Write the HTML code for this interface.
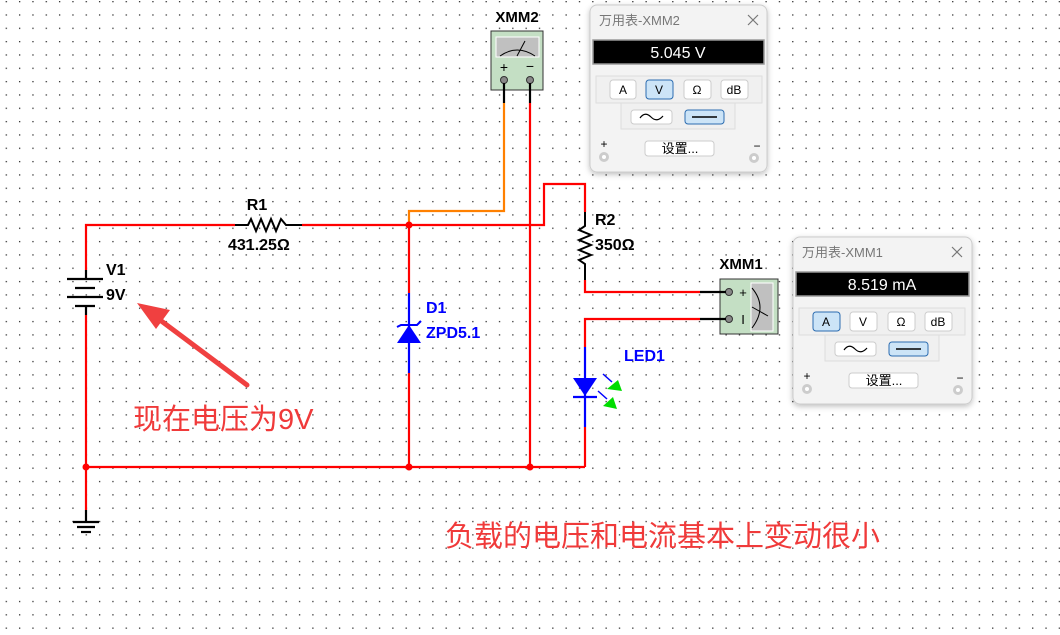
<!DOCTYPE html>
<html><head><meta charset="utf-8"><style>
html,body{margin:0;padding:0;background:#fff;}
svg{display:block;}
text{font-family:"Liberation Sans","Noto Sans CJK SC",sans-serif;}
</style></head><body>
<svg width="1060" height="635" viewBox="0 0 1060 635" xmlns="http://www.w3.org/2000/svg">
<defs>
<pattern id="g" x="5.65" y="1" width="13.33" height="13.33" patternUnits="userSpaceOnUse">
<rect x="0" y="0" width="1.3" height="1.3" fill="#333"/>
</pattern>
<filter id="sh" x="-10%" y="-10%" width="120%" height="120%"><feDropShadow dx="0" dy="2" stdDeviation="3" flood-color="#000" flood-opacity="0.25"/></filter>
</defs>
<rect width="1060" height="635" fill="url(#g)"/>

<g stroke="#f00" stroke-width="2.2" fill="none">
<polyline points="86,270 86,225 235,225"/>
<polyline points="302,225 544,225 544,184 585,184 585,212"/>
<line x1="86" y1="315" x2="86" y2="510"/>
<line x1="86" y1="467" x2="585" y2="467"/>
<line x1="409" y1="225" x2="409" y2="293"/>
<line x1="409" y1="373" x2="409" y2="467"/>
<line x1="530" y1="103" x2="530" y2="467"/>
<polyline points="585,280 585,292 700,292"/>
<polyline points="700,319 585,319 585,347"/>
<line x1="585" y1="427" x2="585" y2="467"/>
</g>
<polyline points="409,225 409,211 504,211 504,103" stroke="#ff8000" stroke-width="2.2" fill="none"/>
<g fill="#f00"><circle cx="86" cy="467" r="3.5"/><circle cx="409" cy="467" r="3.5"/><circle cx="530" cy="467" r="3.5"/><circle cx="409" cy="225" r="3.5"/></g>

<g stroke="#000" stroke-width="2.2">
<line x1="86" y1="270" x2="86" y2="279"/><line x1="86" y1="306" x2="86" y2="315"/>
<line x1="67" y1="279" x2="103" y2="279"/><line x1="75" y1="288" x2="95" y2="288"/>
<line x1="67" y1="297" x2="103" y2="297"/><line x1="75" y1="306" x2="95" y2="306"/>
</g>
<text x="106" y="275" font-size="16" font-weight="bold">V1</text>
<text x="106" y="300" font-size="16" font-weight="bold">9V</text>

<g stroke="#000" stroke-width="2.2">
<line x1="86" y1="510" x2="86" y2="522"/>
<line x1="73" y1="522" x2="99" y2="522"/><line x1="77" y1="527" x2="95" y2="527"/><line x1="81" y1="532" x2="91" y2="532"/>
</g>

<polyline points="235,225 248,225 251,219 256,231 261,219 266,231 271,219 276,231 281,219 286,225 302,225" stroke="#000" stroke-width="2" fill="none"/>
<text x="257" y="210" font-size="16" font-weight="bold" text-anchor="middle">R1</text>
<text x="228" y="250" font-size="16" font-weight="bold">431.25Ω</text>

<polyline points="585,212 585,226 579,230 591,235 579,240 591,245 579,250 591,255 579,260 585,264 585,280" stroke="#000" stroke-width="2" fill="none"/>
<text x="595" y="225" font-size="16" font-weight="bold">R2</text>
<text x="595" y="250" font-size="16" font-weight="bold">350Ω</text>

<line x1="409" y1="293" x2="409" y2="373" stroke="#00f" stroke-width="2.2"/>
<polygon points="397,343 421,343 409,325" fill="#00f"/>
<polyline points="397,327 401,325 417,325 421,321" stroke="#00f" stroke-width="2" fill="none"/>
<text x="426" y="313" font-size="16" font-weight="bold" fill="#00f">D1</text>
<text x="426" y="338" font-size="16" font-weight="bold" fill="#00f">ZPD5.1</text>

<line x1="585" y1="347" x2="585" y2="427" stroke="#00f" stroke-width="2.2"/>
<polygon points="573,378 597,378 585,396" fill="#00f"/>
<line x1="573" y1="397" x2="597" y2="397" stroke="#00f" stroke-width="2.2"/>
<line x1="603" y1="374" x2="612" y2="382" stroke="#00f" stroke-width="1.5"/>
<line x1="598" y1="391" x2="607" y2="399" stroke="#00f" stroke-width="1.5"/>
<polygon points="607,389 618,380 622,391" fill="#0d0"/>
<polygon points="603,406 613,397 617,409" fill="#0d0"/>
<text x="624" y="361" font-size="16" font-weight="bold" fill="#00f">LED1</text>

<text x="517" y="22" font-size="15" font-weight="bold" text-anchor="middle" font-family="Liberation Mono,monospace">XMM2</text>
<rect x="491" y="31" width="52" height="59" fill="#c4dfc4" stroke="#333" stroke-width="1"/>
<rect x="496" y="37" width="43" height="20" fill="#c0c0c0" stroke="#fff" stroke-width="1"/>
<path d="M500,56 Q517,44 535,56" stroke="#000" fill="none" stroke-width="1"/>
<line x1="517" y1="56" x2="525" y2="41" stroke="#000" stroke-width="1"/>
<text x="504" y="72" font-size="14" text-anchor="middle">+</text>
<text x="530" y="71" font-size="14" text-anchor="middle">−</text>
<circle cx="504" cy="80" r="3.5" fill="#888" stroke="#333"/><circle cx="530" cy="80" r="3.5" fill="#888" stroke="#333"/>
<line x1="504" y1="83" x2="504" y2="103" stroke="#000" stroke-width="2.2"/>
<line x1="530" y1="83" x2="530" y2="103" stroke="#000" stroke-width="2.2"/>

<text x="741" y="269" font-size="15" font-weight="bold" text-anchor="middle" font-family="Liberation Mono,monospace">XMM1</text>
<rect x="720" y="279" width="58" height="55" fill="#c4dfc4" stroke="#333" stroke-width="1"/>
<rect x="751" y="283" width="22" height="48" fill="#c0c0c0" stroke="#fff" stroke-width="1"/>
<path d="M752,288 Q768,307 752,328" stroke="#000" fill="none" stroke-width="1"/>
<line x1="752" y1="307" x2="768" y2="316" stroke="#000" stroke-width="1"/>
<text x="743" y="297" font-size="13" text-anchor="middle">+</text>
<text x="743" y="324" font-size="13" text-anchor="middle">I</text>
<circle cx="729" cy="292" r="3.5" fill="#888" stroke="#333"/><circle cx="729" cy="319" r="3.5" fill="#888" stroke="#333"/>
<line x1="700" y1="292" x2="726" y2="292" stroke="#000" stroke-width="2.2"/>
<line x1="700" y1="319" x2="726" y2="319" stroke="#000" stroke-width="2.2"/>

<g transform="translate(590,5)">
<rect x="0" y="0" width="177" height="167" rx="7" fill="#f3f3f3" stroke="#ccc" filter="url(#sh)"/>
<text x="9" y="20" font-size="13" fill="#777">万用表-XMM2</text>
<path d="M158,10 L168,20 M168,10 L158,20" stroke="#777" stroke-width="1.2"/>
<rect x="3" y="35" width="171" height="24" fill="#000" stroke="#999" stroke-width="1.5"/>
<text x="88" y="53" font-size="16" fill="#fff" text-anchor="middle">5.045 V</text>
<rect x="6" y="71" width="166" height="27" fill="#f0f0f0" stroke="#ddd"/>
<rect x="20" y="75" width="26" height="19" rx="3" fill="#fff" stroke="#ccc"/><text x="33" y="89" font-size="12" text-anchor="middle">A</text>
<rect x="56" y="75" width="27" height="19" rx="3" fill="#cce4f7" stroke="#2b6cb0"/><text x="69" y="89" font-size="12" text-anchor="middle">V</text>
<rect x="94" y="75" width="27" height="19" rx="3" fill="#fff" stroke="#ccc"/><text x="107" y="89" font-size="12" text-anchor="middle">Ω</text>
<rect x="131" y="75" width="27" height="19" rx="3" fill="#fff" stroke="#ccc"/><text x="144" y="89" font-size="12" text-anchor="middle">dB</text>
<rect x="31" y="98" width="114" height="26" fill="#f0f0f0" stroke="#ddd"/>
<rect x="41" y="105" width="41" height="14" rx="3" fill="#fff" stroke="#ccc"/>
<path d="M50,113 Q55,106 61,112 Q67,118 73,111" stroke="#000" fill="none" stroke-width="1.2"/>
<rect x="95" y="105" width="39" height="14" rx="3" fill="#cce4f7" stroke="#2b6cb0"/>
<line x1="102" y1="112" x2="127" y2="112" stroke="#000" stroke-width="1.5"/>
<text x="14" y="143" font-size="12" text-anchor="middle">+</text>
<circle cx="14" cy="152" r="5" fill="#ccc"/><circle cx="14" cy="152" r="2" fill="#fff"/>
<rect x="55" y="136" width="69" height="15" rx="3" fill="#fff" stroke="#ccc"/>
<text x="90" y="148" font-size="13" text-anchor="middle">设置...</text>
<text x="167" y="145" font-size="12" text-anchor="middle">−</text>
<circle cx="164" cy="153" r="5" fill="#ccc"/><circle cx="164" cy="153" r="2" fill="#fff"/>
</g>
<g transform="translate(793,237)">
<rect x="0" y="0" width="179" height="167" rx="7" fill="#f3f3f3" stroke="#ccc" filter="url(#sh)"/>
<text x="9" y="20" font-size="13" fill="#777">万用表-XMM1</text>
<path d="M159,10 L169,20 M169,10 L159,20" stroke="#777" stroke-width="1.2"/>
<rect x="3" y="35" width="173" height="24" fill="#000" stroke="#999" stroke-width="1.5"/>
<text x="89" y="53" font-size="16" fill="#fff" text-anchor="middle">8.519 mA</text>
<rect x="6" y="71" width="166" height="27" fill="#f0f0f0" stroke="#ddd"/>
<rect x="20" y="75" width="27" height="19" rx="3" fill="#cce4f7" stroke="#2b6cb0"/><text x="33" y="89" font-size="12" text-anchor="middle">A</text>
<rect x="57" y="75" width="27" height="19" rx="3" fill="#fff" stroke="#ccc"/><text x="70" y="89" font-size="12" text-anchor="middle">V</text>
<rect x="95" y="75" width="27" height="19" rx="3" fill="#fff" stroke="#ccc"/><text x="108" y="89" font-size="12" text-anchor="middle">Ω</text>
<rect x="132" y="75" width="27" height="19" rx="3" fill="#fff" stroke="#ccc"/><text x="145" y="89" font-size="12" text-anchor="middle">dB</text>
<rect x="32" y="98" width="114" height="26" fill="#f0f0f0" stroke="#ddd"/>
<rect x="42" y="105" width="41" height="14" rx="3" fill="#fff" stroke="#ccc"/>
<path d="M51,113 Q56,106 62,112 Q68,118 74,111" stroke="#000" fill="none" stroke-width="1.2"/>
<rect x="96" y="105" width="39" height="14" rx="3" fill="#cce4f7" stroke="#2b6cb0"/>
<line x1="103" y1="112" x2="128" y2="112" stroke="#000" stroke-width="1.5"/>
<text x="14" y="143" font-size="12" text-anchor="middle">+</text>
<circle cx="14" cy="152" r="5" fill="#ccc"/><circle cx="14" cy="152" r="2" fill="#fff"/>
<rect x="56" y="136" width="69" height="15" rx="3" fill="#fff" stroke="#ccc"/>
<text x="91" y="148" font-size="13" text-anchor="middle">设置...</text>
<text x="167" y="145" font-size="12" text-anchor="middle">−</text>
<circle cx="165" cy="153" r="5" fill="#ccc"/><circle cx="165" cy="153" r="2" fill="#fff"/>
</g>

<line x1="247" y1="385" x2="160" y2="320" stroke="#f04040" stroke-width="5" stroke-linecap="round"/>
<polygon points="137,303 170,310 156,329" fill="#f04040"/>
<text x="133" y="429" font-size="29" fill="#f03a3a">现在电压为9V</text>
<text x="445" y="546" font-size="29" fill="#f03a3a">负载的电压和电流基本上变动很小</text>
</svg>
</body></html>
